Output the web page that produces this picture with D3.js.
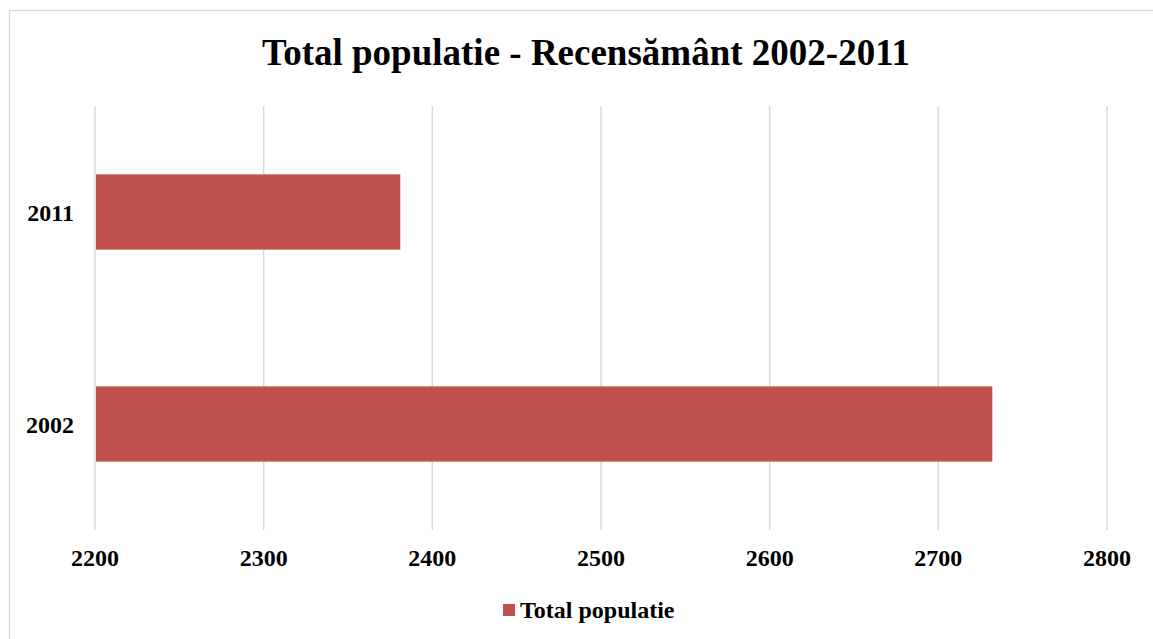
<!DOCTYPE html>
<html>
<head>
<meta charset="utf-8">
<script src="https://cdn.jsdelivr.net/npm/d3@7"></script>
<style>
  html, body { margin: 0; padding: 0; background: #fff; }
  svg { display: block; }
  text { font-family: "Liberation Serif", "Times New Roman", serif; font-weight: bold; fill: #000; }
</style>
</head>
<body>
<svg id="chart" width="1153" height="639"></svg>
<script>
const categories = ["2011", "2002"];
const seriesName = "Total populatie";
const values = [2381, 2732];
const xTicks = [2200, 2300, 2400, 2500, 2600, 2700, 2800];
const title = "Total populatie - Recensământ 2002-2011";

const svg = d3.select("#chart");

// outer chart border (extends past right/bottom of view)
svg.append("rect")
  .attr("x", 9.5).attr("y", 10.5)
  .attr("width", 1200).attr("height", 700)
  .attr("fill", "#fff").attr("stroke", "#d9d9d9").attr("stroke-width", 1.3);

const x = d3.scaleLinear().domain([2200, 2800]).range([95, 1107]);
const y = d3.scalePoint().domain(categories).range([106, 530]).padding(0.5);
const step = y.step();
const barH = step * 0.355;

// gridlines
svg.append("g").selectAll("line").data(xTicks).join("line")
  .attr("x1", d => x(d)).attr("x2", d => x(d))
  .attr("y1", 106).attr("y2", 530)
  .attr("stroke", "#d9d9d9").attr("stroke-width", 1.5);

// bars
svg.append("g").selectAll("rect").data(categories).join("rect")
  .attr("x", x(2200) + 1)
  .attr("y", d => y(d) - barH / 2)
  .attr("width", (d, i) => x(values[i]) - x(2200) - 1)
  .attr("height", barH)
  .attr("fill", "#c0504d");

// x tick labels
svg.append("g").selectAll("text").data(xTicks).join("text")
  .attr("x", d => x(d)).attr("y", 566)
  .attr("text-anchor", "middle")
  .style("font-size", "24px")
  .text(d => d);

// y category labels
svg.append("g").selectAll("text").data(categories).join("text")
  .attr("x", 74).attr("y", d => y(d) + 8.5)
  .attr("text-anchor", "end")
  .style("font-size", "24px")
  .text(d => d);

// title
svg.append("text")
  .attr("x", 586).attr("y", 64.5)
  .attr("text-anchor", "middle")
  .style("font-size", "37px")
  .text(title);

// legend
const lg = svg.append("g");
lg.append("rect").attr("x", 503).attr("y", 604).attr("width", 12).attr("height", 12).attr("fill", "#c0504d");
lg.append("text").attr("x", 520).attr("y", 618)
  .style("font-size", "24px")
  .text(seriesName);
</script>
</body>
</html>
